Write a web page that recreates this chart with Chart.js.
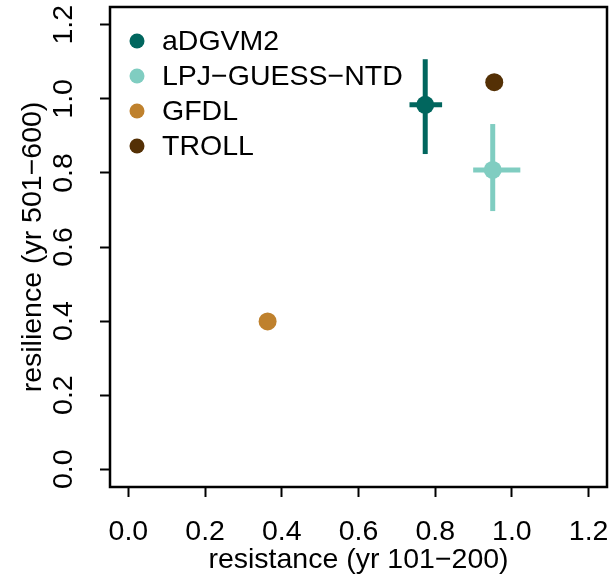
<!DOCTYPE html>
<html>
<head>
<meta charset="utf-8">
<script src="https://cdn.jsdelivr.net/npm/chart.js@4.4.0/dist/chart.umd.min.js"></script>
<style>
  body { margin: 0; background: #fff; }
</style>
</head>
<body>
<canvas id="myChart" width="610" height="583"></canvas>
<script>
// data
const models = ["aDGVM2", "LPJ\u2212GUESS\u2212NTD", "GFDL", "TROLL"];
const colors = ["#01665E", "#80CDC1", "#BF812D", "#543005"];
const resistance = [0.774, 0.950, 0.363, 0.954];
const resilience = [0.984, 0.808, 0.399, 1.045];
const resistanceLow = [0.733, 0.899, null, null];
const resistanceHigh = [0.818, 1.022, null, null];
const resilienceLow = [0.851, 0.697, null, null];
const resilienceHigh = [1.107, 0.932, null, null];
const xTicks = [0.0, 0.2, 0.4, 0.6, 0.8, 1.0, 1.2];
const yTicks = [0.0, 0.2, 0.4, 0.6, 0.8, 1.0, 1.2];

const FONT = "'Liberation Sans', Arial, sans-serif";
const FSIZE = 28.5;

const datasets = models.map((m, i) => ({
  label: m,
  data: [{ x: resistance[i], y: resilience[i] }],
  backgroundColor: colors[i],
  borderWidth: 0,
  pointRadius: 9,
  errLow: { x: resistanceLow[i], y: resilienceLow[i] },
  errHigh: { x: resistanceHigh[i], y: resilienceHigh[i] },
}));

// error bars under the points
const errorBars = {
  id: "errorBars",
  beforeDatasetsDraw(chart) {
    const ctx = chart.ctx;
    const xs = chart.scales.x, ys = chart.scales.y;
    ctx.save();
    ctx.lineWidth = 5;
    chart.data.datasets.forEach((ds) => {
      const p = ds.data[0];
      ctx.strokeStyle = ds.backgroundColor;
      if (ds.errLow.y != null) {
        ctx.beginPath();
        ctx.moveTo(xs.getPixelForValue(p.x), ys.getPixelForValue(ds.errLow.y));
        ctx.lineTo(xs.getPixelForValue(p.x), ys.getPixelForValue(ds.errHigh.y));
        ctx.stroke();
      }
      if (ds.errLow.x != null) {
        ctx.beginPath();
        ctx.moveTo(xs.getPixelForValue(ds.errLow.x), ys.getPixelForValue(p.y));
        ctx.lineTo(xs.getPixelForValue(ds.errHigh.x), ys.getPixelForValue(p.y));
        ctx.stroke();
      }
    });
    ctx.restore();
  },
};

// box, tick labels (R style), legend inside the plot
const frame = {
  id: "frame",
  afterDraw(chart) {
    const ctx = chart.ctx;
    const a = chart.chartArea;
    ctx.save();
    ctx.strokeStyle = "#000";
    ctx.lineWidth = 2.5;
    ctx.strokeRect(a.left, a.top, a.right - a.left, a.bottom - a.top);

    ctx.fillStyle = "#000";
    ctx.font = FSIZE + "px " + FONT;
    ctx.textAlign = "center";
    ctx.textBaseline = "alphabetic";
    xTicks.forEach((v) => {
      ctx.fillText(v.toFixed(1), chart.scales.x.getPixelForValue(v), 540);
    });

    ctx.textBaseline = "middle";
    yTicks.forEach((v) => {
      ctx.save();
      ctx.translate(64, chart.scales.y.getPixelForValue(v));
      ctx.rotate(-Math.PI / 2);
      ctx.fillText(v.toFixed(1), 0, 0);
      ctx.restore();
    });

    ctx.textAlign = "left";
    chart.data.datasets.forEach((ds, i) => {
      const y = 41 + i * 35;
      ctx.fillStyle = ds.backgroundColor;
      ctx.beginPath();
      ctx.arc(137, y, 7.5, 0, Math.PI * 2);
      ctx.fill();
      ctx.fillStyle = "#000";
      ctx.fillText(ds.label, 162, y + 1);
    });
    ctx.restore();
  },
};

const axisCommon = {
  type: "linear",
  min: -0.048,
  max: 1.248,
  border: { display: false },
  grid: {
    drawOnChartArea: false,
    drawTicks: true,
    tickLength: 10,
    tickWidth: 2,
    tickColor: "#000",
  },
  ticks: { display: false },
};

new Chart(document.getElementById("myChart").getContext("2d"), {
  type: "scatter",
  data: { datasets: datasets },
  options: {
    responsive: false,
    animation: false,
    layout: { autoPadding: false, padding: { top: 7, right: 3, left: 0, bottom: 0 } },
    plugins: { legend: { display: false }, tooltip: { enabled: false } },
    scales: {
      x: {
        ...axisCommon,
        afterBuildTicks: (s) => { s.ticks = xTicks.map((v) => ({ value: v })); },
        afterFit: (s) => { s.height = 96; },
        title: {
          display: true,
          text: "resistance (yr 101\u2212200)",
          color: "#000",
          font: { family: FONT, size: FSIZE },
          padding: { top: 0, bottom: 6 },
        },
      },
      y: {
        ...axisCommon,
        afterBuildTicks: (s) => { s.ticks = yTicks.map((v) => ({ value: v })); },
        afterFit: (s) => { s.width = 110; },
        title: {
          display: true,
          text: "resilience (yr 501\u2212600)",
          color: "#000",
          font: { family: FONT, size: FSIZE },
          padding: { top: 16, bottom: 0 },
        },
      },
    },
  },
  plugins: [errorBars, frame],
});
</script>
</body>
</html>
